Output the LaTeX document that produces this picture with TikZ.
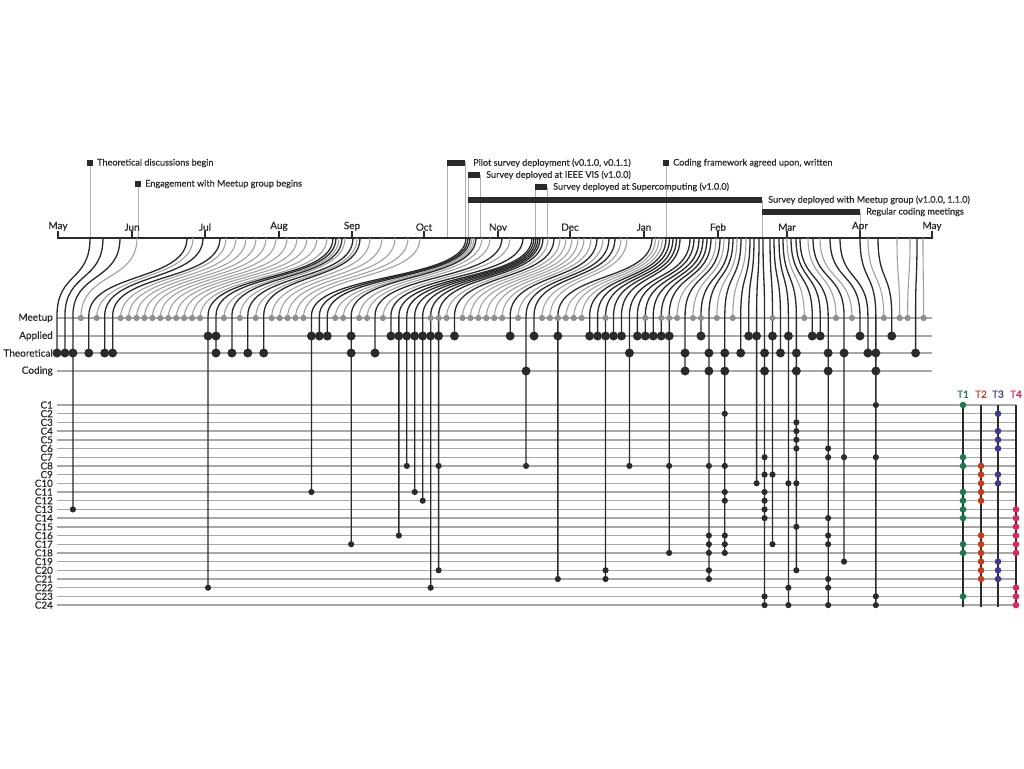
\documentclass[tikz,border=0pt]{standalone}
\usepackage{fontspec}
\setmainfont{Lato}
\newfontfamily\labfont{Lato}[FakeBold=0.7]
\definecolor{dk}{HTML}{2A2A2A}
\definecolor{gc}{HTML}{A0A0A0}
\definecolor{rl}{HTML}{A8A8A8}
\definecolor{el}{HTML}{B0B0B0}
\definecolor{mcol}{HTML}{8E8E8E}
\definecolor{tone}{HTML}{1B7A4C}
\definecolor{ttwo}{HTML}{C83A1C}
\definecolor{tthree}{HTML}{3D3A8F}
\definecolor{tfour}{HTML}{E0245E}
\newcommand\sx[1]{57+7.95*#1}
\newcommand\cy[1]{405+8.7*(#1-1)}
\newcommand\gs[2]{\draw[gcurve] (#2,238) .. controls (#2,282) and ({\sx{#1}},272) .. ({\sx{#1}},318);\fill[mcol] ({\sx{#1}},318) circle (3.1pt);}
\newcommand\bs[3]{\draw[bcurve] (#2,238) .. controls (#2,282) and ({\sx{#1}},272) .. ({\sx{#1}},316) -- ({\sx{#1}},{#3});}
\newcommand\dM[1]{\fill[mcol] ({\sx{#1}},318) circle (3.1pt);}
\newcommand\dA[1]{\fill[dk] ({\sx{#1}},336) circle (4.5pt);}
\newcommand\dT[1]{\fill[dk] ({\sx{#1}},353) circle (4.5pt);}
\newcommand\dD[1]{\fill[dk] ({\sx{#1}},371) circle (4.5pt);}
\newcommand\dC[2]{\fill[dk] ({\sx{#1}},{\cy{#2}}) circle (3.1pt);}
\begin{document}
\begin{tikzpicture}[x=1pt,y=-1pt,
  bcurve/.style={draw=dk, line width=1.3pt},
  gcurve/.style={draw=gc, line width=1.1pt},
  rowline/.style={draw=rl, line width=1.4pt},
  evline/.style={draw=el, line width=0.9pt},
  evlbl/.style={font=\labfont\fontsize{9.1}{10}\selectfont, inner sep=0pt, anchor=west, text=dk},
  monlbl/.style={font=\labfont\fontsize{10}{11}\selectfont, inner sep=0pt, anchor=south, text=dk},
  rowlbl/.style={font=\labfont\fontsize{10}{11}\selectfont, inner sep=0pt, anchor=east, text=dk},
  clbl/.style={font=\labfont\fontsize{9.8}{9}\selectfont, inner sep=0pt, anchor=east, text=dk},
  tlbl/.style={font=\labfont\fontsize{10}{11}\selectfont, inner sep=0pt, anchor=south}]
\useasboundingbox (0,0) rectangle (1024,768);
% ---------------- event markers ----------------
\draw[evline] (90,163) -- (90,238);
\draw[evline] (138,184) -- (138,238);
\draw[evline] (666,163) -- (666,238);
\draw[evline] (447,162) -- (447,238) (465,162) -- (465,238);
\draw[evline] (468,175) -- (468,238) (480,175) -- (480,238);
\draw[evline] (535,187) -- (535,238) (547,187) -- (547,238);
\draw[evline] (762,200) -- (762,238) (860,212) -- (860,238);
\fill[dk] (87,160) rectangle (93,166);
\fill[dk] (135,181) rectangle (141,187);
\fill[dk] (663,160) rectangle (669,166);
\fill[dk] (447,159.5) rectangle (465,166);
\fill[dk] (468,172) rectangle (480,178);
\fill[dk] (535,184) rectangle (547,190);
\fill[dk] (468,197) rectangle (762,203);
\fill[dk] (762,208.5) rectangle (860,214.5);
\node[evlbl] (e1) at (97,163) {Theoretical discussions begin};
\node[evlbl] (e2) at (145,184) {Engagement with Meetup group begins};
\node[evlbl] (e3) at (473,163) {Pilot survey deployment (v0.1.0, v0.1.1)};
\node[evlbl] (e4) at (486,175) {Survey deployed at IEEE VIS (v1.0.0)};
\node[evlbl] (e5) at (553,187) {Survey deployed at Supercomputing (v1.0.0)};
\node[evlbl] (e6) at (768,200) {Survey deployed with Meetup group (v1.0.0, 1.1.0)};
\node[evlbl] (e7) at (866,212) {Regular coding meetings};
\node[evlbl] (e8) at (673,163) {Coding framework agreed upon, written};
% ---------------- axis ----------------
\draw[dk, line width=1.2pt] (58,238) -- (932,238);
\foreach \mx/\mn [count=\i] in {58/May,132/Jun,205/Jul,279/Aug,352/Sep,424/Oct,498/Nov,570/Dec,644/Jan,718/Feb,787/Mar,860/Apr,932/May}{
  \draw[dk, line width=1.2pt] (\mx,238.6) -- (\mx,231);
  \node[monlbl] (m\i) at (\mx,231) {\mn};
}
% ---------------- rows ----------------
\foreach \ry/\rn in {318/Meetup,336/Applied,353/Theoretical,371/Coding}{
  \draw[rowline] (57,\ry) -- (932,\ry);
  \node[rowlbl] (r\rn) at (53,\ry) {\rn};
}
\foreach \n in {1,...,24}{
  \draw[rowline] (57,{\cy{\n}}) -- (1016,{\cy{\n}});
  \node[clbl] (c\n) at (53,{\cy{\n}}) {C\n};
}
% ---------------- slots ----------------
\bs{0}{90}{353}\dT{0}
\bs{1}{103}{353}\dT{1}
\bs{2}{120}{\cy{13}}\dT{2}\dC{2}{13}
\gs{3}{137}
\bs{4}{187}{353}\dT{4}
\gs{5}{193}
\bs{6}{203}{353}\dT{6}
\bs{7}{220}{353}\dT{7}
\gs{8}{226}\gs{9}{236}\gs{10}{246}\gs{11}{256}\gs{12}{266}\gs{13}{276}
\gs{14}{287}\gs{15}{297}\gs{16}{307}\gs{17}{317}\gs{18}{327}
\bs{19}{333}{\cy{22}}\dA{19}\dC{19}{22}
\bs{20}{336}{353}\dA{20}\dT{20}
\gs{21}{339}
\bs{22}{342}{353}\dT{22}
\gs{23}{345}
\bs{24}{353}{353}\dT{24}
\gs{25}{357}
\bs{26}{360}{353}\dT{26}
\gs{27}{370}\gs{28}{382}\gs{29}{395}\gs{30}{408}\gs{31}{420}
\bs{32}{466}{\cy{11}}\dA{32}\dC{32}{11}
\bs{33}{468}{336}\dA{33}
\bs{34}{470}{336}\dA{34}
\gs{35}{472}\gs{36}{474}
\bs{37}{476}{\cy{17}}\dA{37}\dT{37}\dC{37}{17}
\gs{38}{482}\gs{39}{490}
\bs{40}{502}{353}\dT{40}
\gs{41}{510}
\bs{42}{523}{336}\dA{42}
\bs{43}{532}{\cy{16}}\dA{43}\dC{43}{16}
\bs{44}{534}{\cy{8}}\dA{44}\dC{44}{8}
\bs{45}{536}{\cy{11}}\dA{45}\dC{45}{11}
\bs{46}{538}{\cy{12}}\dA{46}\dC{46}{12}
\bs{47}{540}{\cy{22}}\dM{47}\dA{47}\dC{47}{22}
\bs{48}{543}{\cy{20}}\dM{48}\dA{48}\dC{48}{8}\dC{48}{20}
\gs{49}{548}
\bs{50}{554}{336}\dA{50}
\gs{51}{560}\gs{52}{566}\gs{53}{572}\gs{54}{578}\gs{55}{584}\gs{56}{591}
\bs{57}{597}{336}\dA{57}
\gs{58}{603}
\bs{59}{609}{\cy{8}}\dD{59}\dC{59}{8}
\bs{60}{615}{336}\dA{60}
\gs{61}{621}\gs{62}{627}
\bs{63}{652}{\cy{21}}\dM{63}\dA{63}\dC{63}{21}
\gs{64}{655.5}\gs{65}{659}\gs{66}{662.5}
\bs{67}{666}{336}\dA{67}
\bs{68}{669.5}{336}\dA{68}
\bs{69}{673}{\cy{21}}\dM{69}\dA{69}\dC{69}{20}\dC{69}{21}
\bs{70}{676.5}{336}\dA{70}
\bs{71}{680}{336}\dA{71}
\bs{72}{690}{\cy{8}}\dT{72}\dC{72}{8}
\bs{73}{694}{336}\dA{73}
\bs{74}{699}{336}\dM{74}\dA{74}
\bs{75}{703}{336}\dA{75}
\bs{76}{707}{336}\dM{76}\dA{76}
\bs{77}{711}{\cy{18}}\dM{77}\dA{77}\dC{77}{8}\dC{77}{18}
\gs{78}{716}
\bs{79}{720}{371}\dT{79}\dD{79}
\gs{80}{724}
\bs{81}{729}{336}\dM{81}\dA{81}
\bs{82}{733}{\cy{21}}\dT{82}\dD{82}\dC{82}{8}\dC{82}{16}\dC{82}{17}\dC{82}{18}\dC{82}{20}\dC{82}{21}
\gs{83}{737}
\bs{84}{741}{\cy{18}}\dT{84}\dD{84}\dC{84}{2}\dC{84}{8}\dC{84}{11}\dC{84}{12}\dC{84}{16}\dC{84}{17}\dC{84}{18}
\gs{85}{746}
\bs{86}{750}{353}\dT{86}
\bs{87}{754}{336}\dA{87}
\bs{88}{759}{\cy{10}}\dA{88}\dC{88}{10}
\bs{89}{763}{\cy{24}}\dT{89}\dD{89}\dC{89}{7}\dC{89}{9}\dC{89}{11}\dC{89}{12}\dC{89}{13}\dC{89}{14}\dC{89}{23}\dC{89}{24}
\bs{90}{770}{\cy{17}}\dM{90}\dA{90}\dC{90}{9}\dC{90}{17}
\bs{91}{774}{353}\dT{91}
\bs{92}{779}{\cy{24}}\dA{92}\dC{92}{10}\dC{92}{22}\dC{92}{24}
\bs{93}{783}{\cy{20}}\dT{93}\dD{93}\dC{93}{3}\dC{93}{4}\dC{93}{5}\dC{93}{6}\dC{93}{10}\dC{93}{15}\dC{93}{20}
\gs{94}{787}
\bs{95}{791}{336}\dA{95}
\bs{96}{796}{336}\dA{96}
\bs{97}{800}{\cy{24}}\dT{97}\dD{97}\dC{97}{6}\dC{97}{7}\dC{97}{14}\dC{97}{16}\dC{97}{17}\dC{97}{21}\dC{97}{22}\dC{97}{24}
\gs{98}{808}
\bs{99}{813}{\cy{19}}\dT{99}\dC{99}{7}\dC{99}{19}
\gs{100}{820}
\bs{101}{830}{336}\dA{101}
\bs{102}{840}{353}\dT{102}
\bs{103}{860}{\cy{24}}\dT{103}\dD{103}\dC{103}{1}\dC{103}{7}\dC{103}{23}\dC{103}{24}
\gs{104}{868}
\bs{105}{878}{336}\dA{105}
\gs{106}{897}\gs{107}{910}
\bs{108}{917}{353}\dT{108}
\gs{109}{923}
% ---------------- themes ----------------
\foreach \tx/\tn/\tc in {963/T1/tone,981/T2/ttwo,998/T3/tthree,1016/T4/tfour}{
  \draw[dk, line width=1.2pt] (\tx,{\cy{1}}) -- (\tx,607);
  \node[tlbl, text=\tc] (\tn) at (\tx,398) {\tn};
}
\foreach \n in {1,7,8,11,12,13,14,17,18,23}{\fill[tone] (963,{\cy{\n}}) circle (3.3pt);}
\foreach \n in {8,9,10,11,12,16,17,18,19,20,21}{\fill[ttwo] (981,{\cy{\n}}) circle (3.3pt);}
\foreach \n in {2,4,5,6,9,10,19,20,21}{\fill[tthree] (998,{\cy{\n}}) circle (3.3pt);}
\foreach \n in {13,14,15,16,17,18,22,23,24}{\fill[tfour] (1016,{\cy{\n}}) circle (3.3pt);}
\end{tikzpicture}
\end{document}
